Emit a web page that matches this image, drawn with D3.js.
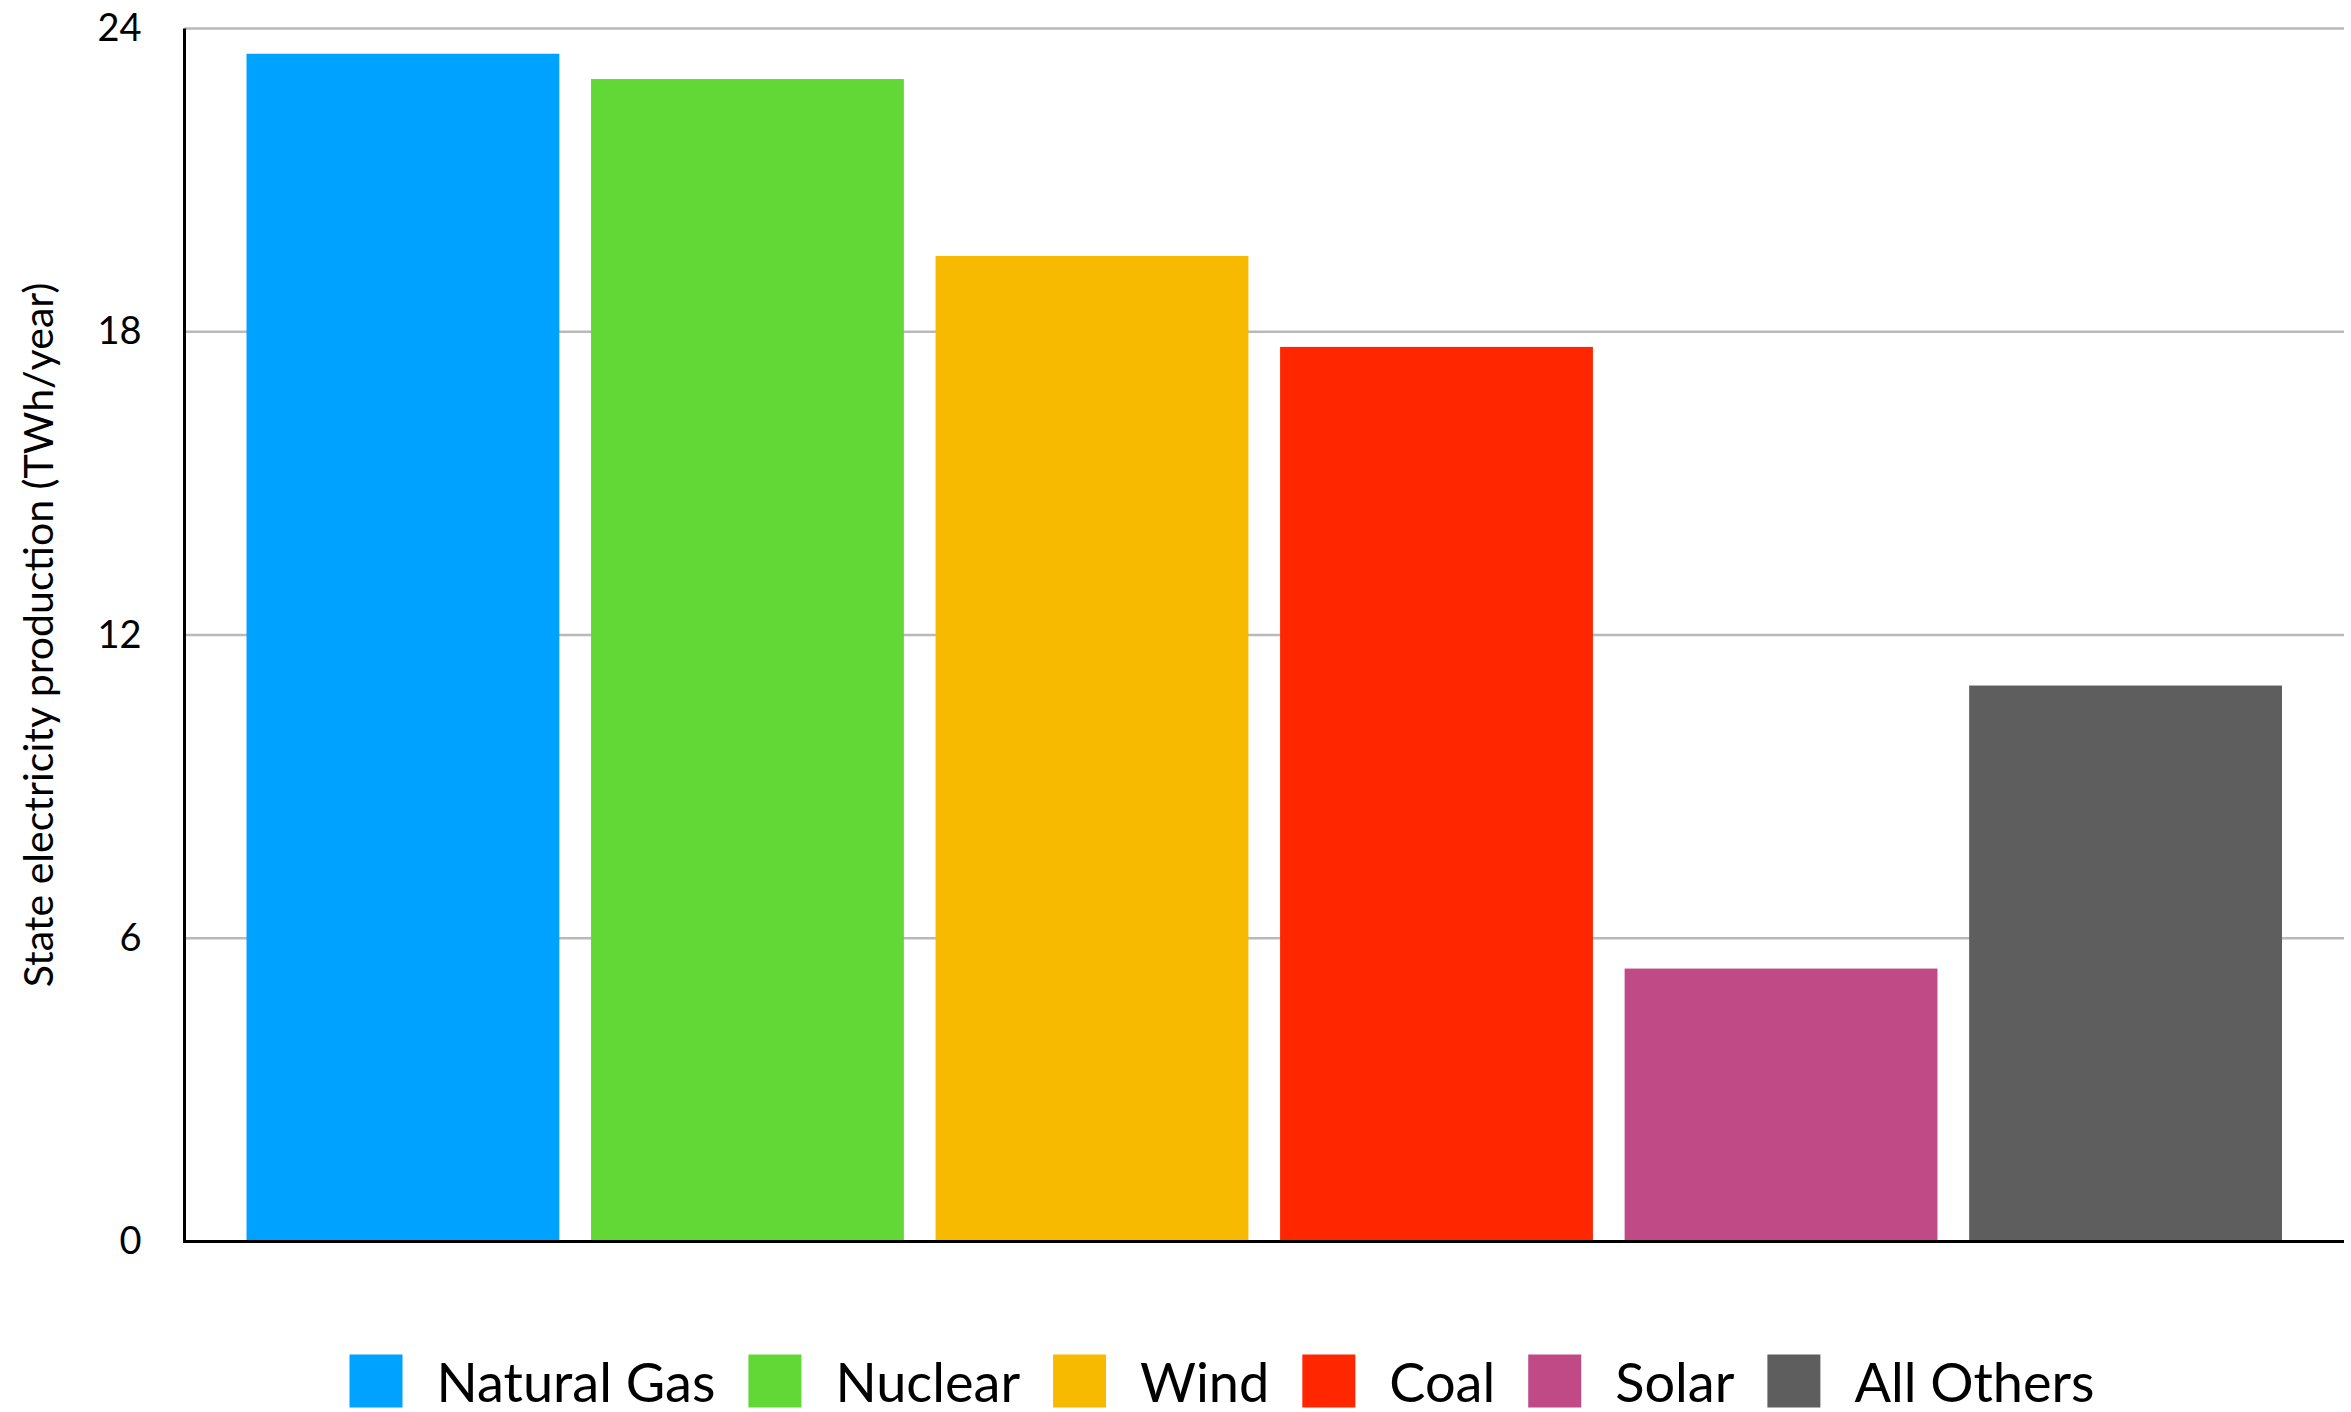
<!DOCTYPE html>
<html>
<head>
<meta charset="utf-8">
<script src="https://cdn.jsdelivr.net/npm/d3@7"></script>
<style>
  html, body { margin: 0; padding: 0; background: #fff; }
  svg { display: block; }
  text { font-family: Lato, "Noto Sans", sans-serif; fill: #000; }
</style>
</head>
<body>
<svg id="chart" width="2351" height="1412"></svg>
<script>
// Electricity production by source (TWh/year)
const categories = ["Natural Gas", "Nuclear", "Wind", "Coal", "Solar", "All Others"];
const values = [23.5, 23.0, 19.5, 17.7, 5.4, 11.0];
const colors = ["#00A2FF", "#61D836", "#F8BA00", "#FF2600", "#C04A86", "#5E5E5E"];
const yTicks = [0, 6, 12, 18, 24];
const yTitle = "State electricity production (TWh/year)";

const W = 2351, H = 1412;
const margin = { left: 184.5, right: 7, top: 28.5, bottom: 170.5 };
const plotW = W - margin.left - margin.right;
const plotH = H - margin.top - margin.bottom;

const svg = d3.select("#chart");
const g = svg.append("g").attr("transform", `translate(${margin.left},${margin.top})`);

const x = d3.scaleBand().domain(categories).range([0, plotW])
  .paddingInner(0.092).paddingOuter(0.18);
const y = d3.scaleLinear().domain([0, 24]).range([plotH, 0]);

// horizontal gridlines (behind the bars)
g.append("g")
  .selectAll("line")
  .data(yTicks.filter(d => d > 0))
  .join("line")
  .attr("x1", 0).attr("x2", plotW)
  .attr("y1", d => y(d)).attr("y2", d => y(d))
  .attr("stroke", "#b9b9b9").attr("stroke-width", 2.5);

// bars
g.append("g")
  .selectAll("rect")
  .data(categories)
  .join("rect")
  .attr("x", d => x(d))
  .attr("width", x.bandwidth())
  .attr("y", (d, i) => y(values[i]))
  .attr("height", (d, i) => y(0) - y(values[i]))
  .attr("fill", (d, i) => colors[i]);

// y axis tick labels
const yAxis = d3.axisLeft(y).tickValues(yTicks).tickSize(0).tickPadding(43);
const ya = g.append("g").call(yAxis);
ya.select(".domain").remove();
ya.selectAll("text").attr("font-size", 38).attr("font-family", "Lato, 'Noto Sans', sans-serif")
  .attr("fill", "#000");

// axis lines
g.append("line").attr("x1", 0).attr("x2", 0).attr("y1", 0).attr("y2", plotH + 1.5)
  .attr("stroke", "#000").attr("stroke-width", 3);
g.append("line").attr("x1", -1.5).attr("x2", plotW).attr("y1", plotH).attr("y2", plotH)
  .attr("stroke", "#000").attr("stroke-width", 3);

// y axis title, sized to span its measured length
const title = svg.append("text")
  .attr("text-anchor", "middle")
  .attr("dominant-baseline", "central")
  .attr("font-size", 100)
  .text(yTitle);
const tw = title.node().getComputedTextLength();
title.attr("font-size", 100 * 705 / tw)
  .attr("transform", `translate(37,${margin.top + plotH / 2}) rotate(-90)`);

// legend
const legendSize = 53;
const legendY = 1381;
const legendGapText = 34;
const legendGapItem = 33;
const legendFont = (() => {
  const t = svg.append("text").attr("font-size", 100).text("Natural Gas");
  const w = t.node().getComputedTextLength();
  t.remove();
  return 100 * 279 / w;
})();
const legend = svg.append("g");
let cx = 0;
categories.forEach((c, i) => {
  const item = legend.append("g").attr("transform", `translate(${cx},0)`);
  item.append("rect").attr("x", 0).attr("y", -legendSize / 2)
    .attr("width", legendSize).attr("height", legendSize).attr("fill", colors[i]);
  const t = item.append("text")
    .attr("x", legendSize + legendGapText).attr("y", 0)
    .attr("dominant-baseline", "central")
    .attr("font-size", legendFont)
    .text(c);
  cx += legendSize + legendGapText + t.node().getComputedTextLength() + legendGapItem;
});
const legendW = cx - legendGapItem;
legend.attr("transform", `translate(${1222 - legendW / 2},${legendY})`);
</script>
</body>
</html>
